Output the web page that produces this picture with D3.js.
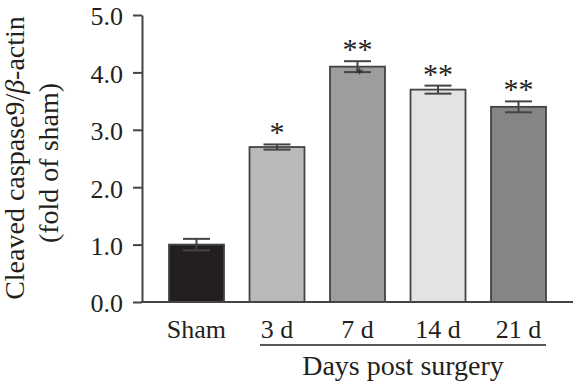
<!DOCTYPE html>
<html>
<head>
<meta charset="utf-8">
<script src="https://cdn.jsdelivr.net/npm/d3@7"></script>
<style>
  body { margin: 0; background: #fff; }
  text { font-family: "Liberation Serif", "DejaVu Serif", serif; fill: #231f20; }
</style>
</head>
<body>
<svg width="573" height="384"></svg>
<script>
// chart data
var groups = ["Sham", "3 d", "7 d", "14 d", "21 d"];
var means = [1.0, 2.7, 4.1, 3.7, 3.4];
var errs = [0.1, 0.045, 0.095, 0.07, 0.095];
var stars = ["", "*", "**", "**", "**"];
var fills = ["#231f20", "#b9b9b9", "#9d9d9d", "#e2e3e3", "#858585"];
var yTicks = [0, 1, 2, 3, 4, 5];

var svg = d3.select("svg");

var x = d3.scaleBand().domain(groups).range([169, 546]).paddingInner(0.317).paddingOuter(0);
var y = d3.scaleLinear().domain([0, 5]).range([302, 15]);

// y axis
var yAxis = d3.axisLeft(y).tickValues(yTicks).tickFormat(d3.format(".1f")).tickSize(9).tickSizeOuter(0);
var gy = svg.append("g").attr("transform", "translate(142,0)").call(yAxis);
gy.select(".domain").attr("stroke", "#444").attr("stroke-width", 2);
gy.selectAll(".tick line").attr("stroke", "#444").attr("stroke-width", 2);
gy.selectAll(".tick text").attr("x", -19).attr("dy", "0.38em")
  .style("font-size", "26px").style("font-family", "Liberation Serif").attr("fill", "#231f20");

// bars
svg.selectAll("rect.bar").data(groups).enter().append("rect")
  .attr("class", "bar")
  .attr("x", function(d){ return x(d); })
  .attr("width", x.bandwidth())
  .attr("y", function(d, i){ return y(means[i]); })
  .attr("height", function(d, i){ return y(0) - y(means[i]); })
  .attr("fill", function(d, i){ return fills[i]; })
  .attr("stroke", "#444").attr("stroke-width", 1.8);

// baseline
svg.append("line").attr("x1", 141).attr("x2", 573).attr("y1", y(0)).attr("y2", y(0))
  .attr("stroke", "#444").attr("stroke-width", 2);

// error bars
var eb = svg.selectAll("g.err").data(groups).enter().append("g").attr("class", "err");
var capW = 13.5;
eb.append("line")
  .attr("x1", function(d){ return x(d) + x.bandwidth()/2; })
  .attr("x2", function(d){ return x(d) + x.bandwidth()/2; })
  .attr("y1", function(d, i){ return y(means[i] + errs[i]); })
  .attr("y2", function(d, i){ return y(means[i] - errs[i]); });
eb.append("line")
  .attr("x1", function(d){ return x(d) + x.bandwidth()/2 - capW; })
  .attr("x2", function(d){ return x(d) + x.bandwidth()/2 + capW; })
  .attr("y1", function(d, i){ return y(means[i] + errs[i]); })
  .attr("y2", function(d, i){ return y(means[i] + errs[i]); });
eb.append("line")
  .attr("x1", function(d){ return x(d) + x.bandwidth()/2 - capW; })
  .attr("x2", function(d){ return x(d) + x.bandwidth()/2 + capW; })
  .attr("y1", function(d, i){ return y(means[i] - errs[i]); })
  .attr("y2", function(d, i){ return y(means[i] - errs[i]); });
eb.selectAll("line").attr("stroke", "#444").attr("stroke-width", 2);

// significance stars
svg.selectAll("text.star").data(groups).enter().append("text")
  .attr("class", "star")
  .attr("x", function(d){ return x(d) + x.bandwidth()/2; })
  .attr("y", function(d, i){ return y(means[i] + errs[i]) - 2; })
  .attr("text-anchor", "middle")
  .style("font-size", "30px")
  .text(function(d, i){ return stars[i]; });

// small stray asterisk printed on the 7 d bar in the source figure
svg.append("text")
  .attr("x", x("7 d") + x.bandwidth()/2 + 2)
  .attr("y", y(means[2] - errs[2]) + 7)
  .attr("text-anchor", "middle").style("font-size", "16px").attr("fill", "#111").text("*");

// x labels
svg.selectAll("text.xl").data(groups).enter().append("text")
  .attr("class", "xl")
  .attr("x", function(d){ return x(d) + x.bandwidth()/2; })
  .attr("y", 338)
  .attr("text-anchor", "middle")
  .style("font-size", "26px")
  .text(function(d){ return d; });

// bracket under day groups
svg.append("line").attr("x1", 260).attr("x2", 546).attr("y1", 345).attr("y2", 345)
  .attr("stroke", "#231f20").attr("stroke-width", 1.6);
svg.append("text").attr("x", 403).attr("y", 375).attr("text-anchor", "middle")
  .style("font-size", "28px").text("Days post surgery");

// y title
var yt = svg.append("text").attr("transform", "translate(24,158) rotate(-90)")
  .attr("text-anchor", "middle").style("font-size", "28px");
yt.append("tspan").text("Cleaved caspase9/");
yt.append("tspan").style("font-style", "italic").text("β");
yt.append("tspan").text("-actin");
svg.append("text").attr("transform", "translate(58,163) rotate(-90)")
  .attr("text-anchor", "middle").style("font-size", "28px").text("(fold of sham)");
</script>
</body>
</html>
